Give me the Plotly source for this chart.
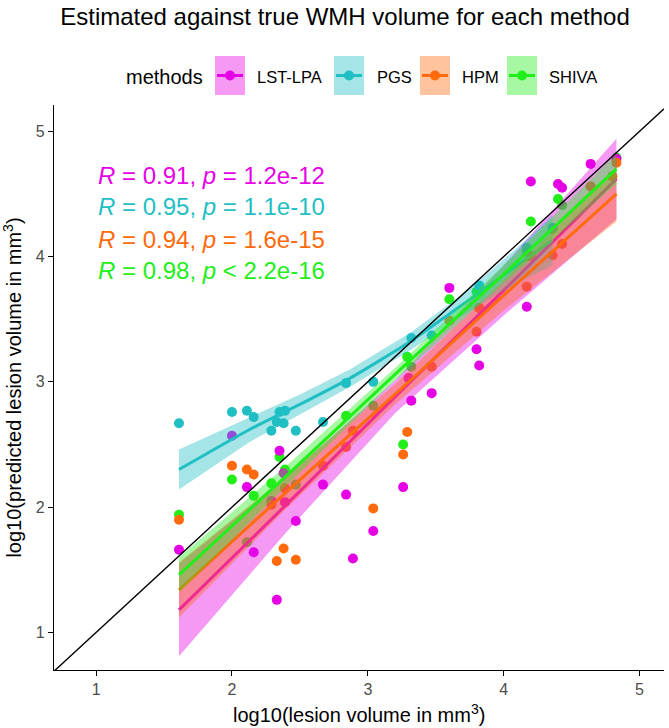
import plotly.graph_objects as go

# ---------------- data ----------------
methods = ["LST-LPA", "PGS", "HPM", "SHIVA"]
method_colors = ["#E600E6", "#1FBFC3", "#FF6A0D", "#22EE1A"]
method_rgb = ["230,0,230", "31,191,195", "255,106,13", "34,238,26"]

lst_x = [1.61, 2.00, 2.11, 2.16, 2.29, 2.33, 2.35, 2.38, 2.39, 2.47, 2.67, 2.84, 2.89, 3.04,
         3.26, 3.30, 3.32, 3.47, 3.60, 3.80, 3.82, 4.17, 4.20, 4.40, 4.43, 4.64, 4.83]
lst_y = [1.66, 2.57, 2.16, 1.64, 2.05, 1.26, 2.45, 2.27, 2.04, 1.89, 2.18, 2.10, 1.59, 1.81,
         2.16, 3.03, 2.85, 2.91, 3.75, 3.26, 3.13, 3.60, 4.60, 4.58, 4.55, 4.74, 4.78]

pgs_x = [1.61, 2.00, 2.11, 2.16, 2.29, 2.33, 2.35, 2.38, 2.39, 2.47, 2.67, 2.84, 3.04, 3.32,
         3.47, 3.82, 4.17, 4.36]
pgs_y = [2.67, 2.76, 2.77, 2.72, 2.61, 2.68, 2.76, 2.67, 2.77, 2.61, 2.68, 2.99, 3.00, 3.35,
         3.37, 3.77, 4.07, 4.23]

hpm_x = [1.61, 2.00, 2.11, 2.16, 2.29, 2.33, 2.38, 2.39, 2.47, 2.67, 2.84, 2.89, 3.04, 3.26,
         3.29, 3.47, 3.60, 3.80, 3.82, 4.17, 4.20, 4.36, 4.43, 4.64, 4.80, 4.83]
hpm_y = [1.90, 2.33, 2.30, 2.26, 2.02, 1.57, 1.67, 2.15, 1.58, 2.33, 2.48, 2.61, 1.99, 2.42,
         2.60, 3.12, 3.49, 3.40, 3.59, 3.76, 4.00, 4.01, 4.10, 4.56, 4.64, 4.75]

shiva_x = [1.61, 2.00, 2.11, 2.16, 2.29, 2.35, 2.39, 2.47, 2.84, 3.04, 3.26, 3.29, 3.32,
           3.60, 3.80, 3.82, 4.17, 4.20, 4.36, 4.40, 4.43, 4.64, 4.80, 4.83]
shiva_y = [1.94, 2.22, 1.72, 2.09, 2.19, 2.40, 2.30, 2.18, 2.73, 2.81, 2.50, 3.20, 3.12,
           3.66, 3.72, 3.59, 4.04, 4.28, 4.22, 4.46, 4.41, 4.56, 4.64, 4.79]

# fitted smooths (centre line and confidence band)
lst_fx = [1.61, 2.40, 3.20, 4.00, 4.83]
lst_fy = [1.18, 2.02, 2.88, 3.73, 4.62]
lst_lo = [0.81, 1.80, 2.75, 3.53, 4.30]
lst_hi = [1.55, 2.24, 3.01, 3.93, 4.94]

pgs_fx = [1.61, 2.13, 2.50, 2.87, 3.31, 3.61, 3.83, 4.10, 4.36]
pgs_fy = [2.30, 2.62, 2.82, 3.03, 3.32, 3.55, 3.72, 3.93, 4.13]
pgs_lo = [2.14, 2.52, 2.74, 2.96, 3.25, 3.47, 3.62, 3.79, 3.93]
pgs_hi = [2.46, 2.72, 2.90, 3.10, 3.39, 3.63, 3.82, 4.07, 4.33]

hpm_fx = [1.61, 2.40, 3.20, 4.00, 4.83]
hpm_fy = [1.34, 2.12, 2.90, 3.69, 4.50]
hpm_lo = [1.12, 1.99, 2.82, 3.57, 4.28]
hpm_hi = [1.56, 2.25, 2.98, 3.81, 4.72]

shiva_fx = [1.61, 2.40, 3.20, 4.00, 4.83]
shiva_fy = [1.46, 2.25, 3.06, 3.86, 4.70]
shiva_lo = [1.32, 2.17, 3.01, 3.79, 4.58]
shiva_hi = [1.60, 2.33, 3.11, 3.93, 4.82]

r_values = ["0.91", "0.95", "0.94", "0.98"]
p_values = ["= 1.2e-12", "= 1.1e-10", "= 1.6e-15", "< 2.2e-16"]
label_x = 1.0
label_y = [4.65, 4.40, 4.14, 3.89]

x_ticks = [1, 2, 3, 4, 5]
y_ticks = [1, 2, 3, 4, 5]
x_range = [0.69, 5.18]
y_range = [0.70, 5.21]

title = "Estimated against true WMH volume for each method"
x_title = "log10(lesion volume in mm<sup>3</sup>)"
y_title = "log10(predicted lesion volume in mm<sup>3</sup>)"

# ---------------- figure ----------------
FONT = "Liberation Sans, Arial, Helvetica, sans-serif"
W, H = 669, 728
ML, MR, MT, MB = 54, 5, 105, 58
PW, PH = W - ML - MR, H - MT - MB

pts = {
    "LST-LPA": (lst_x, lst_y),
    "PGS": (pgs_x, pgs_y),
    "HPM": (hpm_x, hpm_y),
    "SHIVA": (shiva_x, shiva_y),
}
fits = {
    "LST-LPA": (lst_fx, lst_fy, lst_lo, lst_hi),
    "PGS": (pgs_fx, pgs_fy, pgs_lo, pgs_hi),
    "HPM": (hpm_fx, hpm_fy, hpm_lo, hpm_hi),
    "SHIVA": (shiva_fx, shiva_fy, shiva_lo, shiva_hi),
}
col = dict(zip(methods, method_colors))
rgb = dict(zip(methods, method_rgb))

fig = go.Figure()

# points (drawn first, beneath the smooths)
for m in ["SHIVA", "PGS", "LST-LPA", "HPM"]:
    xs, ys = pts[m]
    fig.add_trace(go.Scatter(x=xs, y=ys, mode="markers", showlegend=False,
                             marker=dict(size=10, color=col[m], line=dict(width=0)),
                             hoverinfo="skip"))

# ribbons and lines
for m in methods:
    fx, fy, lo, hi = fits[m]
    fig.add_trace(go.Scatter(x=fx + fx[::-1], y=hi + lo[::-1], fill="toself",
                             fillcolor=f"rgba({rgb[m]},0.4)", line=dict(width=0),
                             mode="lines", showlegend=False, hoverinfo="skip"))
    fig.add_trace(go.Scatter(x=fx, y=fy, mode="lines", showlegend=False,
                             line=dict(color=col[m], width=3, shape="spline", smoothing=0.6),
                             hoverinfo="skip"))

# identity line
fig.add_trace(go.Scatter(x=x_range, y=x_range, mode="lines", showlegend=False,
                         line=dict(color="black", width=1.4), hoverinfo="skip"))

# correlation labels
for m, r, p, yy in zip(methods, r_values, p_values, label_y):
    fig.add_annotation(x=label_x, y=yy, xref="x", yref="y", xanchor="left", yanchor="middle",
                       showarrow=False, text=f"<i>R</i> = {r}, <i>p</i> {p}",
                       font=dict(family=FONT, size=24, color=col[m]))

# manual legend (ggplot style keys)
def px2x(px):
    return (px - ML) / PW

def py2y(py):
    return (H - MB - py) / PH

shapes = []
annotations = []
annotations.append(dict(x=px2x(124), y=py2y(77), xref="paper", yref="paper", xanchor="left",
                        yanchor="middle", showarrow=False, text="methods",
                        font=dict(family=FONT, size=20, color="black")))
key_left = [215, 334, 420, 507]
text_left = [255, 375, 460, 547]
kw, ktop, kbot = 30, 56, 95
kc = (ktop + kbot) / 2
for m, kl, tl in zip(methods, key_left, text_left):
    shapes.append(dict(type="rect", xref="paper", yref="paper",
                       x0=px2x(kl), x1=px2x(kl + kw), y0=py2y(kbot), y1=py2y(ktop),
                       fillcolor=f"rgba({rgb[m]},0.4)", line=dict(width=0)))
    shapes.append(dict(type="line", xref="paper", yref="paper",
                       x0=px2x(kl + 2), x1=px2x(kl + kw - 2), y0=py2y(kc), y1=py2y(kc),
                       line=dict(color=col[m], width=3)))
    cx = kl + kw / 2
    shapes.append(dict(type="circle", xref="paper", yref="paper",
                       x0=px2x(cx - 5), x1=px2x(cx + 5), y0=py2y(kc + 5), y1=py2y(kc - 5),
                       fillcolor=col[m], line=dict(width=0)))
    annotations.append(dict(x=px2x(tl), y=py2y(kc + 1), xref="paper", yref="paper",
                            xanchor="left", yanchor="middle", showarrow=False, text=m,
                            font=dict(family=FONT, size=16.5, color="black")))

# x-axis title placed as text below the tick labels
annotations.append(dict(x=0.5, y=py2y(713), xref="paper", yref="paper", xanchor="center",
                        yanchor="middle", showarrow=False, text=x_title,
                        font=dict(family=FONT, size=20, color="black")))

for a in annotations:
    fig.add_annotation(**a)

axis_common = dict(showgrid=False, zeroline=False, showline=True, linecolor="black",
                   linewidth=1.3, ticks="outside", ticklen=5, tickcolor="black", tickwidth=1.3,
                   tickfont=dict(family=FONT, size=16, color="#4D4D4D"), mirror=False)

fig.update_layout(
    width=W, height=H,
    margin=dict(l=ML, r=MR, t=MT, b=MB),
    paper_bgcolor="white", plot_bgcolor="white",
    shapes=shapes,
    title=dict(text=title, x=(ML + PW / 2 - 14) / W, xanchor="center", y=1 - 17 / H,
               yanchor="middle", font=dict(family=FONT, size=24, color="black")),
    xaxis=dict(range=x_range, tickvals=x_ticks, ticktext=[str(v) for v in x_ticks],
               **axis_common),
    yaxis=dict(range=y_range, tickvals=y_ticks, ticktext=[str(v) for v in y_ticks],
               title=dict(text=y_title, font=dict(family=FONT, size=20, color="black"),
                          standoff=8), **axis_common),
    showlegend=False,
)

fig.write_html("out.html", config={"displayModeBar": False},
               post_script="document.body.style.margin='0';document.body.style.overflow='hidden';")
